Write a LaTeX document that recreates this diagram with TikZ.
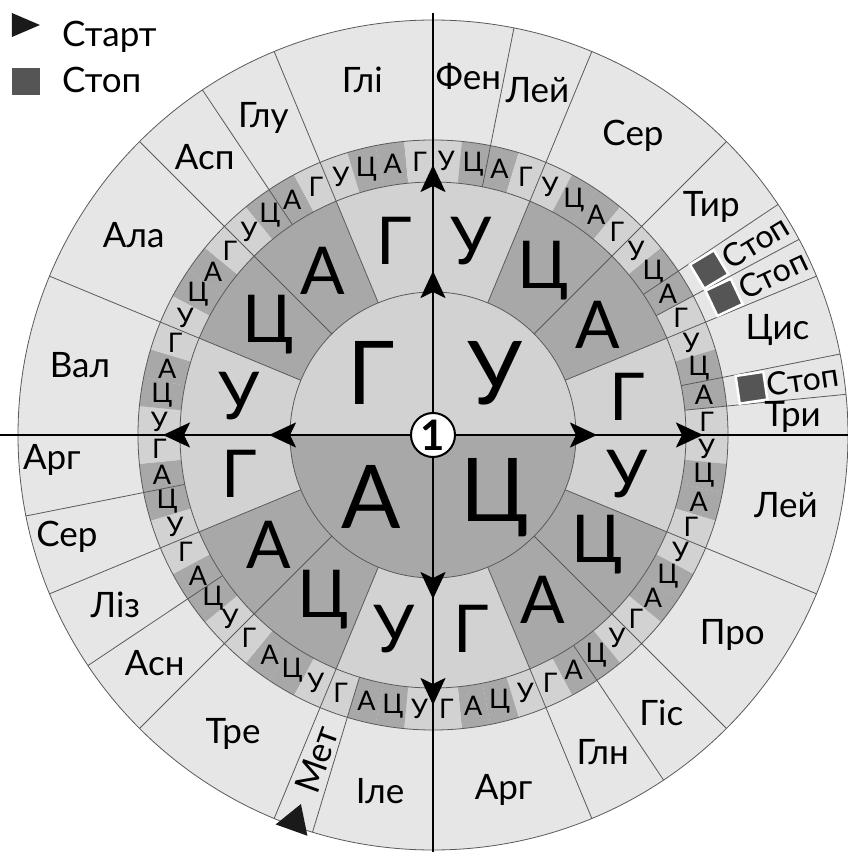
\documentclass[tikz,border=0pt]{standalone}
\usepackage{fontspec}
\setmainfont{Lato}
\usepackage{xcolor}
\definecolor{wheelOuter}{HTML}{E6E6E6}
\definecolor{wheelLight}{HTML}{D2D2D2}
\definecolor{wheelDark}{HTML}{A8A8A8}
\definecolor{wheelLine}{HTML}{5A5A5A}
\definecolor{wheelStop}{HTML}{555555}
\definecolor{wheelStart}{HTML}{1A1A1A}
\usetikzlibrary{arrows.meta}

\begin{document}
\begin{tikzpicture}[x=1pt, y=1pt,
  thinline/.style={draw=wheelLine, line width=0.8pt},
  axisline/.style={draw=black, line width=2.5pt},
  axisarrow/.style={axisline, -{Stealth[length=27pt, width=25pt, inset=6pt]}},
  aa/.style={font=\fontsize{35}{37}\selectfont, inner sep=0pt},
  stoptxt/.style={font=\fontsize{32}{34}\selectfont, inner sep=0pt},
  third/.style={font=\fontsize{27}{29}\selectfont, inner sep=0pt},
  second/.style={font=\fontsize{66}{68}\selectfont, inner sep=0pt},
  first/.style={font=\fontsize{88}{90}\selectfont, inner sep=0pt},
  stopbox/.style={fill=wheelStop, draw=white, line width=2.5pt, minimum size=28pt, inner sep=0pt}]
  \useasboundingbox (-433,-417) rectangle (415,435);

  % outer ring
  \filldraw[fill=wheelOuter, thinline] (0,0) circle (415);

  % third letter
  \foreach \i in {0,...,15} {
    \foreach \l/\col [count=\k from 0] in {У/wheelLight, Ц/wheelDark, А/wheelDark, Г/wheelLight} {
      \pgfmathtruncatemacro\n{4*\i+\k}
      \pgfmathsetmacro\a{90-\n*5.625}
      \pgfmathsetmacro\b{\a-5.625}
      \pgfmathsetmacro\m{\a-2.8125}
      \fill[\col] (\a:253) -- (\a:295) arc[start angle=\a, end angle=\b, radius=295] -- (\b:253) arc[start angle=\b, end angle=\a, radius=253] -- cycle;
      \node[third] (c3-\n) at (\m:274) {\l};
    }
  }

  % second letter
  \foreach \i in {0,...,3} {
    \foreach \l/\col [count=\k from 0] in {У/wheelLight, Ц/wheelDark, А/wheelDark, Г/wheelLight} {
      \pgfmathtruncatemacro\n{4*\i+\k}
      \pgfmathsetmacro\a{90-\n*22.5}
      \pgfmathsetmacro\b{\a-22.5}
      \pgfmathsetmacro\m{\a-11.25}
      \fill[\col] (\a:143) -- (\a:253) arc[start angle=\a, end angle=\b, radius=253] -- (\b:143) arc[start angle=\b, end angle=\a, radius=143] -- cycle;
      \node[second] (c2-\n) at (\m:198) {\l};
    }
  }

  % first letter
  \foreach \l/\col [count=\k from 0] in {У/wheelLight, Ц/wheelDark, А/wheelDark, Г/wheelLight} {
    \pgfmathsetmacro\a{90-\k*90}
    \pgfmathsetmacro\b{\a-90}
    \pgfmathsetmacro\m{\a-45}
    \fill[\col] (0,0) -- (\a:143) arc[start angle=\a, end angle=\b, radius=143] -- cycle;
    \node[first] (c1-\k) at (\m:88) {\l};
  }

  \draw[thinline] (0,0) circle (143);
  \draw[thinline] (0,0) circle (253);
  \draw[thinline] (0,0) circle (295);

  % borders
  \foreach \t in {22.5,45,67.5,112.5,135,157.5,202.5,225,247.5,292.5,315,337.5}
    \draw[thinline] ({90-\t}:143) -- ({90-\t}:415);
  \foreach \t in {11.25,56.25,61.875,78.75,84.375,146.25,196.875,236.25,258.75,326.25}
    \draw[thinline] ({90-\t}:253) -- ({90-\t}:415);

  % axes
  \draw[axisline] (-433,0) -- (415,0);
  \draw[axisline] (0,422) -- (0,-417);
  \foreach \t in {0,90,180,270} {
    \draw[axisarrow] (\t:136) -- (\t:164);
    \draw[axisarrow] (\t:242) -- (\t:270);
  }
  \node[circle, draw=black, line width=2pt, fill=white, minimum size=44pt, inner sep=0pt,
    font=\bfseries\fontsize{42}{42}\selectfont] (one) at (0,0) {1};

  % amino acids
  \node[aa] (phe) at (84.375:360) {Фен};
  \node[aa] (leu1) at (73.125:360) {Лей};
  \node[aa] (ser1) at (56.25:360) {Сер};
  \node[aa] (tyr) at (39.375:360) {Тир};
  \node[stopbox, rotate=30.94] (stop1) at (30.94:322) {};
  \node[stoptxt, rotate=30.94] (stop1txt) at (30.94:376) {Стоп};
  \node[stopbox, rotate=25.31] (stop2) at (25.31:322) {};
  \node[stoptxt, rotate=25.31] (stop2txt) at (25.31:376) {Стоп};
  \node[aa] (cys) at (16.875:360) {Цис};
  \node[stopbox, rotate=8.44] (stop3) at (8.44:322) {};
  \node[stoptxt, rotate=8.44] (stop3txt) at (8.44:374) {Стоп};
  \node[aa] (trp) at (2.8125:360) {Три};
  \node[aa] (leu2) at (-11.25:360) {Лей};
  \node[aa] (pro) at (-33.75:360) {Про};
  \node[aa] (his) at (-50.625:360) {Гіс};
  \node[aa] (gln) at (-61.875:360) {Глн};
  \node[aa] (arg1) at (-78.75:362) {Арг};
  \node[aa] (ile) at (-98.4375:360) {Іле};
  \node[aa, rotate=70.31] (met) at (-109.69:345) {Мет};
  \fill[wheelStart] (-109.69:392) -- (-112:420) -- (-107.4:420) -- cycle;
  \node[aa] (thr) at (-123.75:360) {Тре};
  \node[aa] (asn) at (-140.625:360) {Асн};
  \node[aa] (lys) at (-151.875:360) {Ліз};
  \node[aa] (ser2) at (-164.5:380) {Сер};
  \node[aa] (arg2) at (-176.2:382) {Арг};
  \node[aa] (val) at (168.75:360) {Вал};
  \node[aa] (ala) at (146.25:360) {Ала};
  \node[aa] (asp) at (129.375:360) {Асп};
  \node[aa] (glu) at (118.125:360) {Глу};
  \node[aa] (gly) at (101.25:362) {Глі};

  % legend
  \fill[wheelStart] (-421,422) -- (-421,398) -- (-393,410) -- cycle;
  \fill[wheelStop] (-421,367) rectangle (-393,340);
  \node[aa, anchor=base west] (startlbl) at (-371,388) {Старт};
  \node[aa, anchor=base west] (stoplbl) at (-371,342) {Стоп};
\end{tikzpicture}
\end{document}
